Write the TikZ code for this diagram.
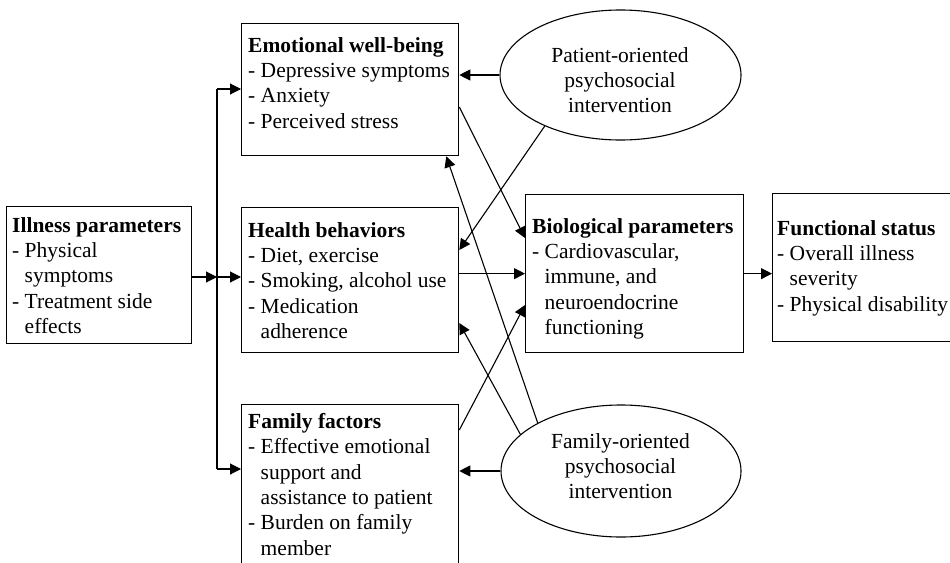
\documentclass[tikz,border=0pt]{standalone}
\usepackage{fontspec}
\setmainfont{Liberation Serif}
\usetikzlibrary{arrows.meta,shapes.geometric}
\newcommand{\ind}{\hphantom{- }}
\begin{document}
\begin{tikzpicture}[x=1pt,y=-1pt,
  box/.style={draw,line width=1.3pt,rectangle,anchor=north west,inner sep=0pt},
  oval/.style={draw,line width=1.1pt,ellipse,inner sep=0pt},
  txt/.style={anchor=north west,inner sep=0pt,align=left,font=\fontsize{21.5pt}{25.4pt}\selectfont},
  ctxt/.style={anchor=north,inner sep=0pt,align=center,font=\fontsize{21.5pt}{25.4pt}\selectfont},
  ln/.style={line width=1.1pt},
  arr/.style={ln,-{Triangle[length=11pt,width=11pt]}}]
\useasboundingbox (0,0) rectangle (950,562);
\clip (0,0) rectangle (950,562);

% boxes
\node[box,minimum width=185,minimum height=137] (ill) at (6,206) {};
\node[box,minimum width=217,minimum height=132] (eb) at (241,23) {};
\node[box,minimum width=217,minimum height=145] (hb) at (241,207) {};
\node[box,minimum width=217,minimum height=200] (fb) at (241,404) {};
\node[box,minimum width=218,minimum height=158] (bio) at (525,194) {};
\node[box,minimum width=200,minimum height=148] (fs) at (772,193) {};

% ellipses
\node[oval,minimum width=241,minimum height=130] (pe) at (620.5,75) {};
\node[oval,minimum width=240,minimum height=132] (fe) at (621,471) {};

% box texts
\node[txt] (illt) at (12,217) {\textbf{Illness parameters}\\- Physical\\\ind symptoms\\- Treatment side\\\ind effects};
\node[txt] (ebt) at (248,37) {\textbf{Emotional well-being}\\- Depressive symptoms\\- Anxiety\\- Perceived stress};
\node[txt] (hbt) at (248,222) {\textbf{Health behaviors}\\- Diet, exercise\\- Smoking, alcohol use\\- Medication\\\ind adherence};
\node[txt] (fbt) at (248,413) {\textbf{Family factors}\\- Effective emotional\\\ind support and\\\ind assistance to patient\\- Burden on family\\\ind member};
\node[txt] (biot) at (532,218) {\textbf{Biological parameters}\\- Cardiovascular,\\\ind immune, and\\\ind neuroendocrine\\\ind functioning};
\node[txt] (fst) at (777,220) {\textbf{Functional status}\\- Overall illness\\\ind severity\\- Physical disability};

% ellipse texts
\node[ctxt] (pet) at (620,47) {Patient-oriented\\psychosocial\\intervention};
\node[ctxt] (fet) at (620.5,433) {Family-oriented\\psychosocial\\intervention};

% illness parameters feed the three mediators
\coordinate (j) at (217,277);
\coordinate (jt) at (217,89);
\coordinate (jb) at (217,469);
\draw[ln] (jt) -- (jb);
\draw[arr] (ill.east |- j) -- (j);
\draw[arr] (j) -- (j -| hb.west);
\draw[arr] (jt) -- (jt -| eb.west);
\draw[arr] (jb) -- (jb -| fb.west);

% mediators to biological parameters
\draw[arr] (hb.east |- bio.west) -- (bio.west);
\draw[arr] ([yshift=-84pt]eb.north east) -- ([yshift=-44pt]bio.north west);
\draw[arr] ([yshift=-26pt]fb.north east) -- ([yshift=-111pt]bio.north west);
\draw[arr] (bio.east) -- (bio.east -| fs.west);

% interventions
\draw[arr] (pe.west) -- (pe.west -| eb.east);
\draw[arr] (pe.214) -- ([yshift=-43pt]hb.north east);
\draw[arr] (fe.west) -- (fe.west -| fb.east);
\draw[arr] (fe.160.7) -- ([yshift=-116pt]hb.north east);
\draw[arr] (fe.150.3) -- ([xshift=-13pt]eb.south east);
\end{tikzpicture}
\end{document}
